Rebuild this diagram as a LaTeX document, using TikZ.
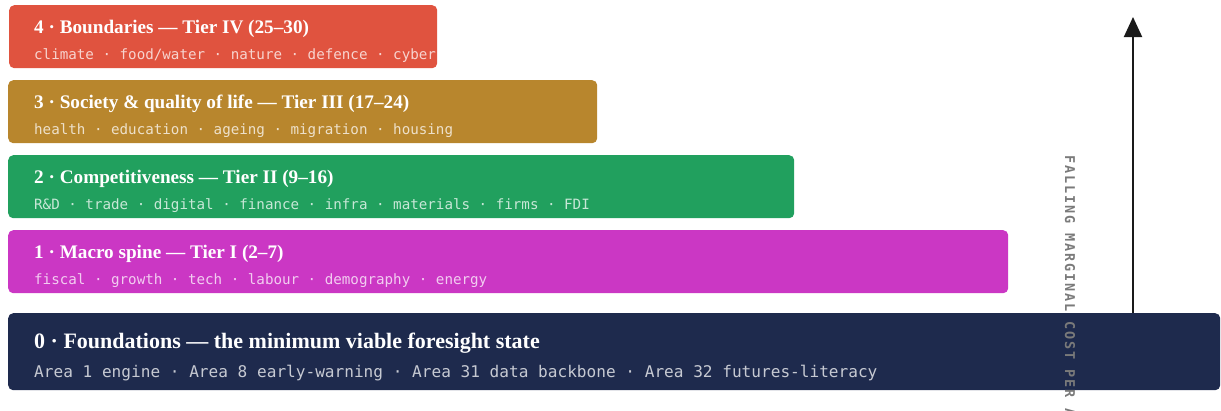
\documentclass[tikz,border=0pt]{standalone}
\usepackage{fontspec}
\setmainfont{Liberation Serif}
\setmonofont{DejaVu Sans Mono}
\newfontfamily\axisfont[LetterSpace=14]{DejaVu Sans Mono}
\usetikzlibrary{arrows.meta}
\definecolor{tierfour}{HTML}{E0533F}
\definecolor{tierthree}{HTML}{B8862D}
\definecolor{tiertwo}{HTML}{21A05E}
\definecolor{tierone}{HTML}{CB37C4}
\definecolor{tierzero}{HTML}{1E2A4D}
\definecolor{axisgray}{HTML}{7A7A7A}
\definecolor{arrowink}{HTML}{1A1A1A}
\begin{document}
\begin{tikzpicture}[
    x=1pt, y=-1pt,
    tier/.style={rectangle, rounded corners=5pt, minimum height=63pt, anchor=north west, inner sep=0pt},
    tier title/.style={anchor=base west, inner sep=0pt, text=white, font=\fontsize{19.2}{22}\selectfont\bfseries},
    tier items/.style={anchor=base west, inner sep=0pt, text=white, text opacity=0.75, font=\fontsize{14.2}{17}\selectfont\ttfamily},
    axis label/.style={rotate=-90, anchor=west, inner sep=0pt, text=axisgray, font=\fontsize{13.5}{16}\selectfont\axisfont\bfseries}
    ]
    \useasboundingbox (0,0) rectangle (1221,410);
    \clip (0,0) rectangle (1221,410);
    % tier boxes
    \node[tier, fill=tierfour, minimum width=428pt] (t4) at (9,5) {};
    \node[tier, fill=tierthree, minimum width=589pt] (t3) at (8,80) {};
    \node[tier, fill=tiertwo, minimum width=786pt] (t2) at (8,155) {};
    \node[tier, fill=tierone, minimum width=1000pt] (t1) at (8,230) {};
    \node[tier, fill=tierzero, minimum width=1212pt, minimum height=77pt] (t0) at (8,313) {};
    % titles and items
    \node[tier title] (t4title) at ([xshift=25pt, yshift=-28pt]t4.north west) {4 · Boundaries — Tier IV (25–30)};
    \node[tier items] (t4items) at ([xshift=25pt, yshift=-54pt]t4.north west) {climate · food/water · nature · defence · cyber};
    \node[tier title] (t3title) at ([xshift=26pt, yshift=-28pt]t3.north west) {3 · Society \& quality of life — Tier III (17–24)};
    \node[tier items] (t3items) at ([xshift=26pt, yshift=-54pt]t3.north west) {health · education · ageing · migration · housing};
    \node[tier title] (t2title) at ([xshift=26pt, yshift=-28pt]t2.north west) {2 · Competitiveness — Tier II (9–16)};
    \node[tier items] (t2items) at ([xshift=26pt, yshift=-54pt]t2.north west) {R\&D · trade · digital · finance · infra · materials · firms · FDI};
    \node[tier title] (t1title) at ([xshift=26pt, yshift=-28pt]t1.north west) {1 · Macro spine — Tier I (2–7)};
    \node[tier items] (t1items) at ([xshift=26pt, yshift=-54pt]t1.north west) {fiscal · growth · tech · labour · demography · energy};
    \node[tier title, font=\fontsize{22}{25}\selectfont\bfseries] (t0title) at ([xshift=26pt, yshift=-35pt]t0.north west) {0 · Foundations — the minimum viable foresight state};
    \node[tier items, font=\fontsize{16.1}{19}\selectfont\ttfamily] (t0items) at ([xshift=26pt, yshift=-64pt]t0.north west) {Area 1 engine · Area 8 early-warning · Area 31 data backbone · Area 32 futures-literacy};
    % cost axis
    \coordinate (base) at (1133,313);
    \coordinate (tip) at (1133,17);
    \draw[arrowink, line width=2pt, -{Triangle[length=20pt, width=18pt]}] (base) -- (tip);
    \node[axis label] (axis) at (1070,155) {FALLING MARGINAL COST PER AREA};
\end{tikzpicture}
\end{document}
